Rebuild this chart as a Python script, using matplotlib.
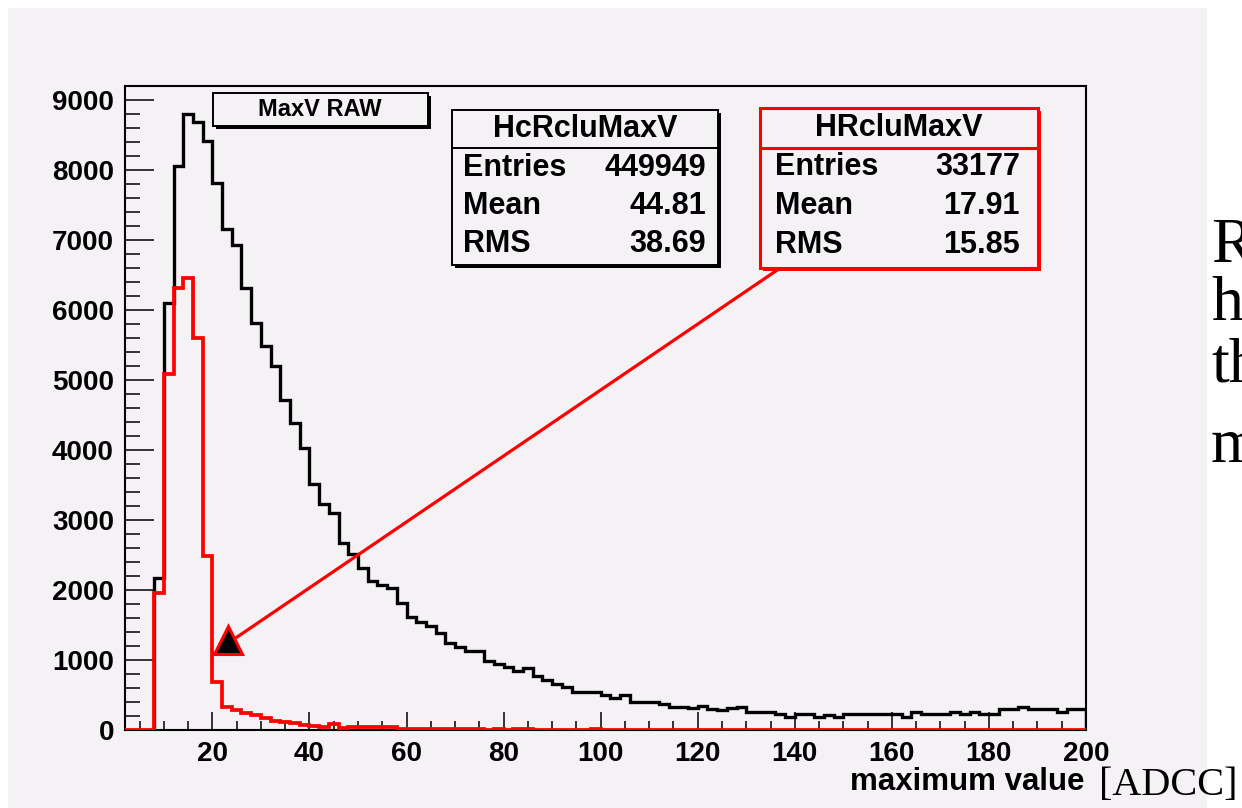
import numpy as np
import matplotlib
matplotlib.use("Agg")
import matplotlib.pyplot as plt
from matplotlib.patches import Rectangle

plt.rcParams['font.family'] = ['Liberation Sans', 'DejaVu Sans']
plt.rcParams['font.weight'] = 'bold'

# histogram binning: 2 ADC counts per bin, 2..200
edges = np.arange(2, 202, 2)

# HcRcluMaxV (black), counts per bin starting at 2
black_counts = [
    0, 0, 0, 2170, 6100, 8060, 8800, 8680, 8420, 7820,
    7150, 6930, 6310, 5810, 5490, 5200, 4720, 4380, 4030, 3520,
    3230, 3100, 2670, 2510, 2310, 2130, 2070, 2030, 1810, 1610,
    1550, 1490, 1390, 1240, 1190, 1130, 1130, 990, 945, 905,
    850, 880, 770, 715, 660, 610, 550, 550, 550, 500,
    455, 500, 405, 405, 405, 370, 335, 335, 310, 343,
    295, 285, 310, 324, 257, 257, 257, 229, 190, 229,
    229, 190, 214, 190, 229, 229, 229, 229, 229, 229,
    190, 262, 229, 229, 229, 262, 229, 262, 229, 229,
    295, 295, 324, 295, 295, 295, 257, 295, 295,
]

# HRcluMaxV (red)
red_counts = [
    0, 0, 0, 1960, 5080, 6320, 6450, 5600, 2490, 690,
    335, 285, 250, 215, 165, 135, 110, 95, 70, 57,
    48, 80, 25, 45, 45, 45, 45, 45, 15, 10,
    10, 10, 10, 10, 10, 10, 10, 3, 12, 3,
    12, 12, 5, 5, 5, 5, 5, 5, 15, 3,
    2, 2, 2, 2, 2, 2, 2, 2, 2, 2,
    2, 2, 2, 2, 2, 2, 2, 2, 2, 2,
    2, 2, 2, 2, 2, 2, 2, 2, 2, 2,
    2, 2, 2, 2, 2, 2, 2, 2, 2, 2,
    2, 2, 2, 2, 2, 2, 2, 2, 2,
]

stats_black = [("Entries", "449949"), ("Mean", "44.81"), ("RMS", "38.69")]
stats_red = [("Entries", "33177"), ("Mean", "17.91"), ("RMS", "15.85")]

W, H = 1242, 808
bg = "#f5f2f5"

fig = plt.figure(figsize=(W / 100, H / 100), dpi=100)
fig.patch.set_facecolor("white")
fig.patches.append(Rectangle((8 / W, 0), (1207 - 8) / W, (H - 8) / H,
                             transform=fig.transFigure, facecolor=bg,
                             edgecolor="none", zorder=-10))

ax = fig.add_axes([125 / W, (H - 730) / H, (1086 - 125) / W, (730 - 86) / H])
ax.set_facecolor(bg)
ax.stairs(black_counts, edges, color="black", lw=2.4, zorder=3)
ax.stairs(red_counts, edges, color="red", lw=2.7, zorder=4)

ax.set_xlim(2, 200)
ax.set_ylim(0, 9200)
ax.set_xticks(np.arange(20, 201, 20))
ax.set_xticks(np.arange(5, 201, 5), minor=True)
ax.set_yticks(np.arange(0, 9001, 1000))
ax.set_yticks(np.arange(0, 9201, 200), minor=True)
ax.tick_params(axis="both", which="both", direction="in", color="black", width=1.1)
ax.tick_params(axis="y", which="major", length=21, labelsize=20, pad=8)
ax.tick_params(axis="y", which="minor", length=11)
ax.tick_params(axis="x", which="major", length=13, labelsize=20, pad=8)
ax.tick_params(axis="x", which="minor", length=6.5)
for s in ax.spines.values():
    s.set_linewidth(1.5)

# arrow from the red stats box to the red histogram
ax.annotate("", xy=(24.5, 1300), xytext=(137, 6600),
            arrowprops=dict(arrowstyle="-", color="red", lw=2.3), zorder=6)
ax.plot([23.2], [1280], marker="^", ms=20, mfc="black", mec="red", mew=2.2,
        zorder=7, clip_on=False)

# overlay in pixel coordinates for boxes and text
ov = fig.add_axes([0, 0, 1, 1], zorder=5)
ov.set_xlim(0, W)
ov.set_ylim(H, 0)
ov.axis("off")


def box(x0, y0, x1, y1, ec, lw):
    ov.add_patch(Rectangle((x0 + 3, y0 + 3), x1 - x0, y1 - y0, facecolor=ec, edgecolor="none"))
    ov.add_patch(Rectangle((x0, y0), x1 - x0, y1 - y0, facecolor=bg, edgecolor=ec, lw=lw))


# title box
box(213, 93, 428, 126, "black", 1.4)
ov.text(320, 110, "MaxV RAW", ha="center", va="center", fontsize=17)

# stats box black
box(452, 110, 718, 265, "black", 1.4)
ov.plot([452, 718], [148, 148], color="black", lw=1.4)
ov.text(585, 137, "HcRcluMaxV", ha="center", va="baseline", fontsize=22)
for i, (k, v) in enumerate(stats_black):
    ov.text(463, 176 + 38 * i, k, ha="left", va="baseline", fontsize=22)
    ov.text(706, 176 + 38 * i, v, ha="right", va="baseline", fontsize=22)

# stats box red
box(760, 108, 1038, 268, "red", 2.2)
ov.plot([760, 1038], [148, 148], color="red", lw=2.2)
ov.text(899, 136, "HRcluMaxV", ha="center", va="baseline", fontsize=22)
for i, (k, v) in enumerate(stats_red):
    ov.text(775, 175 + 39 * i, k, ha="left", va="baseline", fontsize=22)
    ov.text(1020, 175 + 39 * i, v, ha="right", va="baseline", fontsize=22)

# axis title and slide text
ov.text(1085, 790, "maximum value", ha="right", va="baseline", fontsize=22.5)
ov.text(1099, 795, "[ADCC]", ha="left", va="baseline", fontsize=29,
        family="Liberation Serif", fontweight="normal")
for t, yb in zip(["R", "h", "th", "m"], [262, 320, 382, 462]):
    ov.text(1211, yb, t, ha="left", va="baseline", fontsize=46,
            family="Liberation Serif", fontweight="normal")

fig.savefig("out.png", dpi=100, facecolor="white")
